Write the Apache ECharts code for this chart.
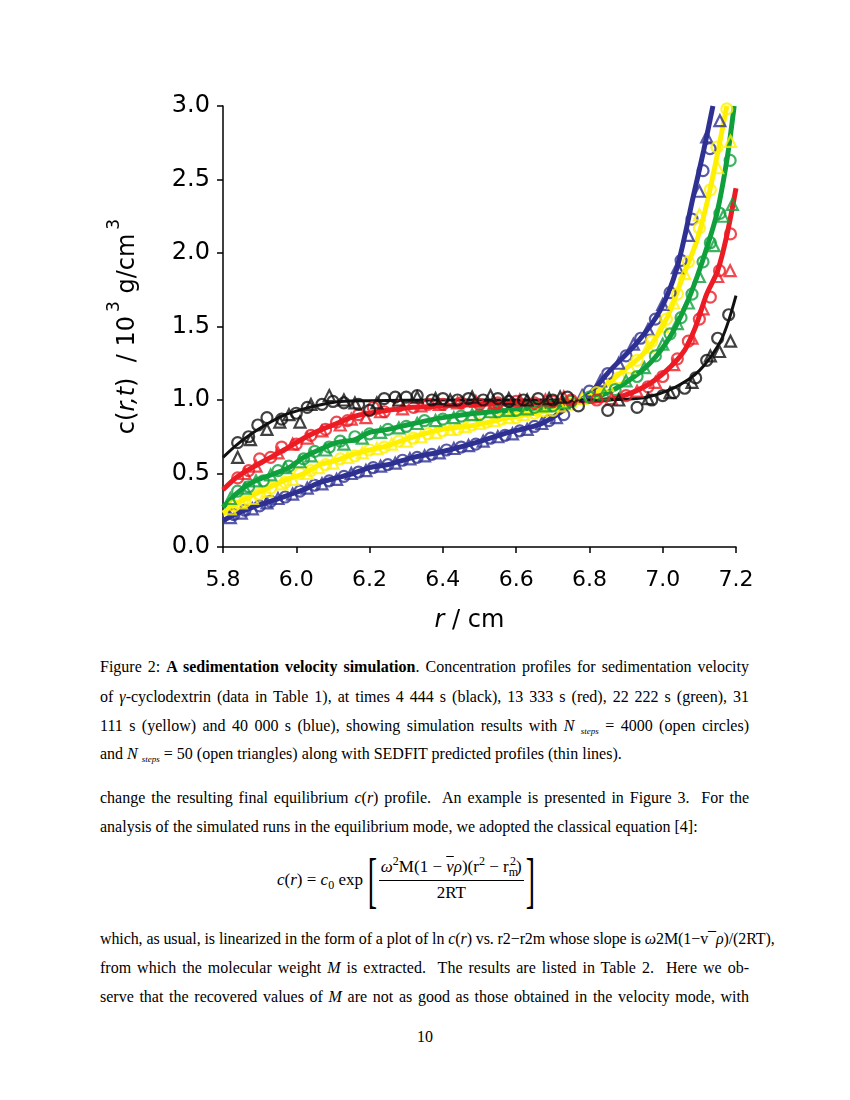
<!DOCTYPE html>
<html>
<head>
<meta charset="utf-8">
<script src="https://cdn.jsdelivr.net/npm/echarts@6/dist/echarts.min.js"></script>
<style>
  html, body { margin:0; padding:0; background:#fff; }
  body { width:850px; height:1100px; position:relative; overflow:hidden; }
  #chart { position:absolute; left:0; top:0; width:850px; height:650px; }
  .tx { position:absolute; left:100px; width:649px; font-family:"Liberation Serif","Times New Roman",serif; font-size:16px; line-height:20px; color:#000; text-align:justify; text-align-last:justify; white-space:nowrap; }
  .tx.last { text-align-last:left; }
  .sub { font-size:9px; font-style:italic; vertical-align:-3px; }
  #eq { position:absolute; left:277px; top:850px; height:60px; font-family:"Liberation Serif",serif; font-size:17px; color:#000; display:flex; align-items:center; white-space:nowrap; }
  .br { font-size:62px; font-weight:100; line-height:60px; margin:0 -5px; transform:scaleX(0.45); display:inline-block; }
  .frac { display:inline-flex; flex-direction:column; align-items:center; margin:0 1px; }
  .frac .num { border-bottom:1px solid #000; padding:0 2px 2px 2px; line-height:22px; }
  .frac .den { line-height:24px; }
  sup, sub { font-size:12px; line-height:0; }
  #pg { position:absolute; left:0; width:850px; top:1027px; text-align:center; font-family:"Liberation Serif",serif; font-size:16px; line-height:20px; }
</style>
</head>
<body>
<div id="chart"></div>

<div class="tx" style="top:657px">Figure 2: <b>A sedimentation velocity simulation</b>. Concentration profiles for sedimentation velocity</div>
<div class="tx" style="top:687px">of <i>γ</i>-cyclodextrin (data in Table 1), at times 4 444 s (black), 13 333 s (red), 22 222 s (green), 31</div>
<div class="tx" style="top:716px">111 s (yellow) and 40 000 s (blue), showing simulation results with <i>N</i> <span class="sub">steps</span> = 4000 (open circles)</div>
<div class="tx last" style="top:744px">and <i>N</i> <span class="sub">steps</span> = 50 (open triangles) along with SEDFIT predicted profiles (thin lines).</div>

<div class="tx" style="top:788px">change the resulting final equilibrium <i>c</i>(<i>r</i>) profile.&nbsp; An example is presented in Figure 3.&nbsp; For the</div>
<div class="tx last" style="top:817px">analysis of the simulated runs in the equilibrium mode, we adopted the classical equation [4]:</div>

<div id="eq"><span><i>c</i>(<i>r</i>) = <i>c</i><sub>0</sub> exp&nbsp;</span><span class="br">[</span><span class="frac"><span class="num"><i>ω</i><sup>2</sup>M(1 − <span style="text-decoration:overline"><i>ν</i></span><i>ρ</i>)(r<sup>2</sup> − r<sub>m</sub><sup style="margin-left:-8px">2</sup>)</span><span class="den">2RT</span></span><span class="br">]</span></div>

<div class="tx last" style="top:929px;letter-spacing:-0.1px">which, as usual, is linearized in the form of a plot of ln <i>c</i>(<i>r</i>) vs. r2−r2m whose slope is <i>ω</i>2M(1−v¯<i>ρ</i>)/(2RT),</div>
<div class="tx" style="top:958px">from which the molecular weight <i>M</i> is extracted.&nbsp; The results are listed in Table 2.&nbsp; Here we ob-</div>
<div class="tx" style="top:987px">serve that the recovered values of <i>M</i> are not as good as those obtained in the velocity mode, with</div>
<div id="pg">10</div>

<script>
// ---- tick labels ----
const xTicks = [5.8, 6.0, 6.2, 6.4, 6.6, 6.8, 7.0, 7.2];
const yTicks = [0.0, 0.5, 1.0, 1.5, 2.0, 2.5, 3.0];

// ---- SEDFIT profiles (thin lines) [r, c] ----
const blackLine = [[5.80,0.61],[5.84,0.70],[5.89,0.79],[5.93,0.85],[5.97,0.90],[6.02,0.94],[6.07,0.97],[6.12,0.99],[6.20,0.995],[6.40,1.0],[6.60,1.0],[6.80,1.0],[6.90,1.005],[6.96,1.02],[7.02,1.07],[7.07,1.14],[7.10,1.20],[7.13,1.29],[7.16,1.41],[7.18,1.54],[7.20,1.71]];
const redLine = [[5.80,0.39],[5.84,0.48],[5.88,0.54],[5.93,0.61],[5.98,0.68],[6.02,0.74],[6.07,0.80],[6.11,0.84],[6.16,0.89],[6.20,0.91],[6.25,0.93],[6.32,0.95],[6.49,0.97],[6.67,0.98],[6.80,0.99],[6.88,1.02],[6.95,1.09],[7.01,1.20],[7.06,1.34],[7.09,1.50],[7.12,1.72],[7.15,1.88],[7.175,2.12],[7.20,2.44]];
const greenLine = [[5.80,0.27],[5.84,0.37],[5.88,0.44],[5.93,0.49],[5.98,0.54],[6.02,0.61],[6.07,0.67],[6.11,0.71],[6.16,0.73],[6.20,0.78],[6.25,0.80],[6.32,0.84],[6.40,0.88],[6.49,0.91],[6.58,0.93],[6.67,0.95],[6.77,0.99],[6.84,1.04],[6.90,1.12],[6.965,1.25],[7.02,1.43],[7.066,1.66],[7.094,1.84],[7.121,2.04],[7.148,2.27],[7.175,2.63],[7.195,3.0]];
const yellowLine = [[5.80,0.23],[5.84,0.30],[5.88,0.35],[5.93,0.41],[5.975,0.46],[6.02,0.50],[6.065,0.56],[6.11,0.59],[6.155,0.63],[6.20,0.66],[6.25,0.69],[6.32,0.75],[6.40,0.80],[6.49,0.83],[6.58,0.88],[6.67,0.92],[6.77,0.99],[6.83,1.07],[6.883,1.18],[6.957,1.34],[7.012,1.56],[7.055,1.84],[7.094,2.09],[7.129,2.43],[7.175,3.0]];
const blueLine = [[5.80,0.18],[5.84,0.23],[5.88,0.27],[5.93,0.31],[5.975,0.35],[6.02,0.39],[6.065,0.44],[6.11,0.47],[6.155,0.50],[6.20,0.54],[6.25,0.56],[6.32,0.61],[6.40,0.65],[6.49,0.71],[6.58,0.78],[6.67,0.84],[6.76,0.98],[6.80,1.04],[6.856,1.20],[6.93,1.39],[6.993,1.61],[7.039,1.90],[7.083,2.38],[7.112,2.70],[7.137,3.0]];

// ---- N_steps = 4000 (open circles) ----
const blackCirc = [[5.84,0.71],[5.87,0.75],[5.895,0.83],[5.92,0.88],[5.96,0.87],[6.0,0.91],[6.03,0.95],[6.07,0.97],[6.10,0.99],[6.13,0.98],[6.17,0.97],[6.20,0.93],[6.24,1.01],[6.27,1.02],[6.30,1.02],[6.33,1.03],[6.37,1.00],[6.40,1.01],[6.44,1.0],[6.47,1.01],[6.51,1.0],[6.55,1.01],[6.58,0.99],[6.62,1.0],[6.66,1.01],[6.70,1.0],[6.74,1.02],[6.77,0.96],[6.85,0.93],[6.93,0.95],[6.97,1.0],[7.0,1.03],[7.03,1.05],[7.06,1.08],[7.09,1.15],[7.12,1.27],[7.15,1.42],[7.18,1.58]];
const redCirc = [[5.84,0.47],[5.87,0.52],[5.90,0.60],[5.93,0.61],[5.96,0.68],[6.0,0.70],[6.04,0.76],[6.08,0.80],[6.11,0.85],[6.14,0.86],[6.17,0.90],[6.21,0.95],[6.24,0.92],[6.28,0.96],[6.32,0.95],[6.36,0.97],[6.40,0.97],[6.45,0.98],[6.50,0.97],[6.55,0.98],[6.60,0.99],[6.65,0.98],[6.70,0.99],[6.75,1.0],[6.82,1.0],[6.90,1.03],[6.96,1.09],[7.0,1.16],[7.04,1.28],[7.07,1.40],[7.10,1.55],[7.13,1.70],[7.155,1.88],[7.185,2.13]];
const greenCirc = [[5.84,0.38],[5.87,0.41],[5.91,0.45],[5.95,0.52],[5.98,0.55],[6.02,0.60],[6.05,0.65],[6.09,0.68],[6.12,0.72],[6.16,0.75],[6.20,0.77],[6.25,0.80],[6.30,0.82],[6.35,0.86],[6.40,0.87],[6.45,0.89],[6.50,0.90],[6.55,0.92],[6.60,0.93],[6.65,0.95],[6.70,0.96],[6.75,0.99],[6.80,1.02],[6.87,1.07],[6.93,1.16],[6.98,1.30],[7.02,1.45],[7.05,1.56],[7.08,1.72],[7.11,1.94],[7.13,2.07],[7.156,2.27],[7.184,2.63]];
const yellowCirc = [[5.83,0.28],[5.86,0.31],[5.90,0.36],[5.93,0.40],[5.97,0.44],[6.01,0.50],[6.04,0.52],[6.08,0.56],[6.12,0.60],[6.16,0.62],[6.20,0.66],[6.24,0.68],[6.28,0.72],[6.32,0.74],[6.36,0.77],[6.40,0.79],[6.44,0.80],[6.48,0.83],[6.52,0.85],[6.56,0.87],[6.60,0.88],[6.65,0.91],[6.70,0.93],[6.75,0.97],[6.82,1.05],[6.88,1.15],[6.93,1.27],[6.97,1.40],[7.01,1.55],[7.04,1.72],[7.07,1.94],[7.10,2.17],[7.13,2.43],[7.148,2.72],[7.175,2.98]];
const blueCirc = [[5.83,0.22],[5.86,0.25],[5.90,0.28],[5.93,0.31],[5.97,0.34],[6.01,0.38],[6.05,0.42],[6.09,0.45],[6.13,0.48],[6.17,0.51],[6.21,0.54],[6.25,0.56],[6.29,0.59],[6.33,0.61],[6.37,0.63],[6.41,0.66],[6.45,0.68],[6.49,0.70],[6.53,0.74],[6.57,0.76],[6.61,0.79],[6.65,0.82],[6.69,0.86],[6.73,0.90],[6.80,1.06],[6.85,1.18],[6.90,1.30],[6.94,1.42],[6.98,1.55],[7.02,1.73],[7.05,1.95],[7.08,2.23],[7.11,2.56],[7.129,2.71]];

// ---- N_steps = 50 (open triangles) ----
const blackTri = [[5.84,0.61],[5.875,0.73],[5.92,0.80],[5.955,0.85],[5.98,0.90],[6.01,0.85],[6.04,0.97],[6.09,1.03],[6.13,1.0],[6.16,0.98],[6.22,0.98],[6.28,1.0],[6.33,1.02],[6.38,1.01],[6.42,1.0],[6.48,1.02],[6.53,1.03],[6.58,1.01],[6.63,1.0],[6.69,1.01],[6.72,1.02],[6.88,1.0],[6.96,1.01],[7.02,1.05],[7.08,1.12],[7.13,1.30],[7.155,1.33],[7.185,1.40]];
const redTri = [[5.86,0.50],[5.89,0.55],[5.95,0.64],[5.99,0.70],[6.03,0.74],[6.07,0.79],[6.12,0.83],[6.15,0.87],[6.19,0.88],[6.23,0.92],[6.29,0.94],[6.34,0.96],[6.39,0.97],[6.44,0.98],[6.49,0.99],[6.54,0.98],[6.61,1.0],[6.68,1.0],[6.73,1.02],[6.86,1.01],[6.93,1.06],[6.98,1.12],[7.03,1.24],[7.08,1.42],[7.11,1.62],[7.15,1.84],[7.184,1.88]];
const greenTri = [[5.82,0.33],[5.86,0.40],[5.89,0.45],[5.93,0.49],[5.97,0.54],[6.01,0.58],[6.04,0.62],[6.08,0.66],[6.13,0.70],[6.18,0.74],[6.23,0.78],[6.28,0.81],[6.33,0.84],[6.38,0.86],[6.43,0.88],[6.48,0.90],[6.53,0.92],[6.58,0.93],[6.63,0.94],[6.68,0.96],[6.73,0.98],[6.84,1.04],[6.90,1.13],[6.95,1.22],[7.0,1.38],[7.04,1.52],[7.07,1.66],[7.10,1.84],[7.14,2.05],[7.165,2.25],[7.19,2.33]];
const yellowTri = [[5.82,0.26],[5.85,0.30],[5.88,0.33],[5.92,0.38],[5.96,0.43],[5.99,0.46],[6.03,0.50],[6.06,0.54],[6.10,0.57],[6.14,0.61],[6.18,0.64],[6.22,0.67],[6.26,0.70],[6.30,0.72],[6.34,0.75],[6.38,0.78],[6.42,0.80],[6.46,0.82],[6.50,0.84],[6.54,0.86],[6.58,0.88],[6.62,0.90],[6.67,0.93],[6.72,0.96],[6.78,1.01],[6.85,1.10],[6.91,1.22],[6.96,1.36],[7.0,1.50],[7.03,1.66],[7.06,1.86],[7.10,2.26],[7.15,2.58],[7.185,2.76]];
const blueTri = [[5.82,0.20],[5.85,0.23],[5.88,0.26],[5.92,0.30],[5.95,0.33],[5.99,0.36],[6.03,0.40],[6.07,0.43],[6.11,0.46],[6.15,0.50],[6.19,0.52],[6.23,0.55],[6.27,0.57],[6.31,0.60],[6.35,0.62],[6.39,0.64],[6.43,0.67],[6.47,0.69],[6.51,0.72],[6.55,0.75],[6.59,0.77],[6.63,0.80],[6.67,0.84],[6.71,0.88],[6.78,1.03],[6.83,1.13],[6.88,1.25],[6.92,1.38],[6.96,1.48],[7.0,1.65],[7.04,1.90],[7.07,2.12],[7.10,2.42],[7.12,2.79],[7.156,2.90]];

const colors = { black:'#111111', red:'#ec1c24', green:'#0fa03c', yellow:'#fff000', blue:'#2e3192' };

const groups = [
  ['blue', blueLine, blueCirc, blueTri],
  ['yellow', yellowLine, yellowCirc, yellowTri],
  ['green', greenLine, greenCirc, greenTri],
  ['red', redLine, redCirc, redTri],
  ['black', blackLine, blackCirc, blackTri]
];

const series = [];
groups.forEach(([name, line, circ, tri]) => {
  const c = colors[name];
  series.push({
    type:'line', data:line, smooth:0.3, showSymbol:false, clip:true,
    lineStyle:{ color:c, width: name==='black' ? 3 : 5 }, z:2
  });
  series.push({
    type:'scatter', data:circ, symbol:'circle', symbolSize:11, clip:true,
    itemStyle:{ color:'transparent', borderColor:c, borderWidth:2.2 }, z:3
  });
  series.push({
    type:'scatter', data:tri, symbol:'triangle', symbolSize:11, clip:true,
    itemStyle:{ color:'transparent', borderColor:c, borderWidth:2.2 }, z:3
  });
});

const chart = echarts.init(document.getElementById('chart'), null, { renderer:'canvas' });
chart.setOption({
  animation:false,
  backgroundColor:'#fff',
  grid:{ left:223, right:114, top:106, bottom:103 },
  xAxis:{
    type:'value', min:xTicks[0], max:xTicks[xTicks.length-1], interval:0.2,
    axisLine:{ lineStyle:{ color:'#000', width:1.5 } },
    axisTick:{ length:6, lineStyle:{ color:'#000', width:1.5 } },
    splitLine:{ show:false },
    axisLabel:{ margin:22, fontFamily:'DejaVu Sans', fontSize:22, color:'#000', formatter:v => v.toFixed(1) },
    name:'{i|r} / cm', nameLocation:'middle', nameGap:62,
    nameTextStyle:{ fontFamily:'DejaVu Sans', fontSize:24, color:'#000', padding:[0,20,0,0],
      rich:{ i:{ fontFamily:'DejaVu Sans', fontSize:24, fontStyle:'italic', color:'#000' } } }
  },
  yAxis:{
    type:'value', min:yTicks[0], max:yTicks[yTicks.length-1], interval:0.5,
    axisLine:{ lineStyle:{ color:'#000', width:1.5 } },
    axisTick:{ length:6, lineStyle:{ color:'#000', width:1.5 } },
    splitLine:{ show:false },
    axisLabel:{ margin:13, fontFamily:'DejaVu Sans', fontSize:24, color:'#000', formatter:v => v.toFixed(1) },
    name:'{n|c(}{i|r,t}{n|)  / 10}{s|3}{n| g/cm}{s|3}', nameLocation:'middle', nameGap:83, nameRotate:90,
    nameTextStyle:{ fontFamily:'DejaVu Sans', fontSize:24, color:'#000',
      rich:{
        n:{ fontFamily:'DejaVu Sans', fontSize:24, color:'#000', lineHeight:34, verticalAlign:'bottom' },
        i:{ fontFamily:'DejaVu Sans', fontSize:24, fontStyle:'italic', color:'#000', lineHeight:34, verticalAlign:'bottom' },
        s:{ fontFamily:'DejaVu Sans', fontSize:17, color:'#000', lineHeight:34, verticalAlign:'top', padding:[0,0,0,4] }
      } }
  },
  series: series
});
</script>
</body>
</html>
